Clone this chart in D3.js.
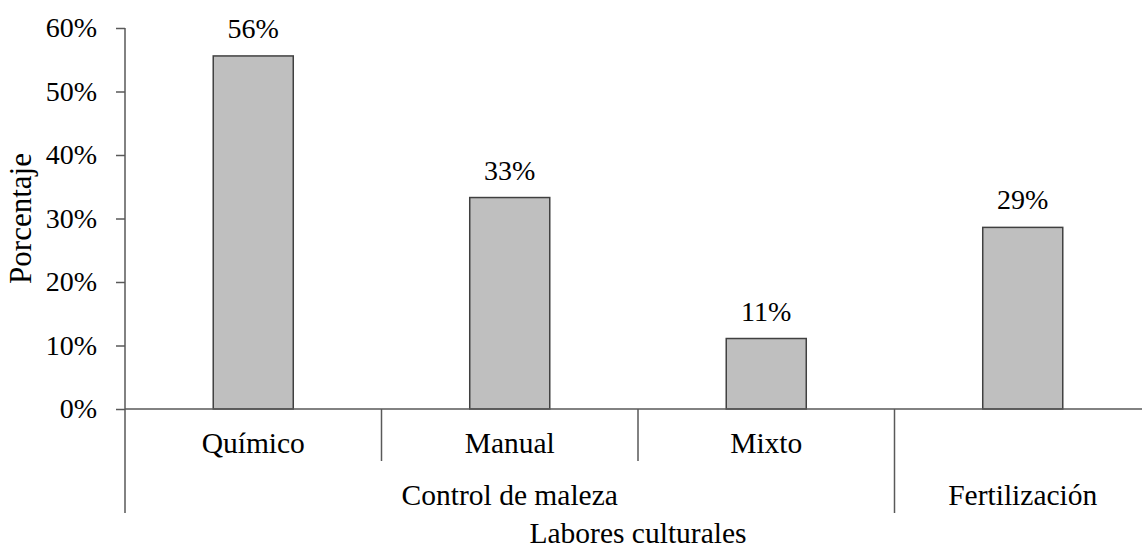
<!DOCTYPE html>
<html>
<head>
<meta charset="utf-8">
<script src="https://cdn.jsdelivr.net/npm/d3@7"></script>
<style>
  body { margin: 0; background: #fff; }
  text { font-family: "Liberation Serif", "Times New Roman", serif; fill: #000; }
</style>
</head>
<body>
<div id="chart"></div>
<script>
var width = 1142;
var height = 550;

// data
var categories = ["Químico", "Manual", "Mixto", "Fertilización"];
// label shown on the lower row (the lone Fertilización bar has none there)
var catLabels = ["Químico", "Manual", "Mixto", ""];
var groups = ["Control de maleza", "Control de maleza", "Control de maleza", "Fertilización"];
var values = [0.556, 0.333, 0.111, 0.286];
var yTicks = [0, 0.1, 0.2, 0.3, 0.4, 0.5, 0.6];

var plotLeft = 125, plotRight = 1151, plotTop = 28, plotBottom = 409;
var numSize = 28;   // tick and value labels
var labSize = 29.5; // category labels and titles

var svg = d3.select("#chart")
    .append("svg")
    .attr("width", width)
    .attr("height", height);

var x = d3.scaleBand()
    .domain(categories)
    .range([plotLeft, plotRight])
    .padding(0);

var barWidth = x.bandwidth() * 0.312;

var y = d3.scaleLinear()
    .domain([0, 0.6])
    .range([plotBottom, plotTop]);

var axisColor = "#595959";

// y axis
var yAxis = svg.append("g")
    .attr("transform", "translate(" + plotLeft + ",0)")
    .call(d3.axisLeft(y)
      .tickValues(yTicks)
      .tickFormat(d3.format(".0%"))
      .tickSize(9)
      .tickPadding(19));
yAxis.select(".domain").remove();
yAxis.selectAll("line").attr("stroke", axisColor).attr("stroke-width", 1.5);
yAxis.selectAll("text")
    .style("font-size", numSize + "px")
    .style("font-family", "'Liberation Serif', 'Times New Roman', serif")
    .attr("fill", "#000");

// vertical axis line, runs down through the category label rows
svg.append("line")
    .attr("x1", plotLeft).attr("x2", plotLeft)
    .attr("y1", plotTop).attr("y2", 513)
    .attr("stroke", axisColor).attr("stroke-width", 1.5);

// bars
svg.selectAll("rect.bar")
    .data(values)
    .enter().append("rect")
    .attr("class", "bar")
    .attr("x", function(d, i) { return x(categories[i]) + x.bandwidth() / 2 - barWidth / 2; })
    .attr("y", function(d) { return y(d); })
    .attr("width", barWidth)
    .attr("height", function(d) { return y(0) - y(d); })
    .attr("fill", "#bfbfbf")
    .attr("stroke", "#404040")
    .attr("stroke-width", 1.5);

// x axis line
svg.append("line")
    .attr("x1", plotLeft).attr("x2", plotRight)
    .attr("y1", y(0)).attr("y2", y(0))
    .attr("stroke", axisColor).attr("stroke-width", 1.5);

// value labels
svg.selectAll("text.val")
    .data(values)
    .enter().append("text")
    .attr("class", "val")
    .attr("x", function(d, i) { return x(categories[i]) + x.bandwidth() / 2; })
    .attr("y", function(d) { return y(d) - 18; })
    .attr("text-anchor", "middle")
    .style("font-size", numSize + "px")
    .text(function(d) { return d3.format(".0%")(d); });

// category labels
svg.selectAll("text.cat")
    .data(categories)
    .enter().append("text")
    .attr("class", "cat")
    .attr("x", function(d) { return x(d) + x.bandwidth() / 2; })
    .attr("y", plotBottom + 44)
    .attr("text-anchor", "middle")
    .style("font-size", labSize + "px")
    .text(function(d, i) { return catLabels[i]; });

// separators between categories: short within a group, long between groups
var seps = [];
for (var i = 1; i < categories.length; i++) {
  seps.push({ x: x(categories[i]), full: groups[i] !== groups[i - 1] });
}
svg.selectAll("line.sep")
    .data(seps)
    .enter().append("line")
    .attr("class", "sep")
    .attr("x1", function(d) { return d.x; })
    .attr("x2", function(d) { return d.x; })
    .attr("y1", plotBottom)
    .attr("y2", function(d) { return d.full ? 513 : 461; })
    .attr("stroke", axisColor)
    .attr("stroke-width", 1.5);

// group labels
var groupNames = Array.from(new Set(groups));
var groupSpans = groupNames.map(function(g) {
  var members = categories.filter(function(c, i) { return groups[i] === g; });
  var x0 = x(members[0]);
  var x1 = x(members[members.length - 1]) + x.bandwidth();
  return { name: g, cx: (x0 + x1) / 2 };
});
svg.selectAll("text.grp")
    .data(groupSpans)
    .enter().append("text")
    .attr("class", "grp")
    .attr("x", function(d) { return d.cx; })
    .attr("y", 505)
    .attr("text-anchor", "middle")
    .style("font-size", labSize + "px")
    .text(function(d) { return d.name; });

// axis titles
svg.append("text")
    .attr("x", (plotLeft + plotRight) / 2)
    .attr("y", 543)
    .attr("text-anchor", "middle")
    .style("font-size", labSize + "px")
    .text("Labores culturales");

svg.append("text")
    .attr("transform", "translate(31," + ((plotTop + plotBottom) / 2) + ") rotate(-90)")
    .attr("text-anchor", "middle")
    .style("font-size", "31px")
    .text("Porcentaje");
</script>
</body>
</html>
